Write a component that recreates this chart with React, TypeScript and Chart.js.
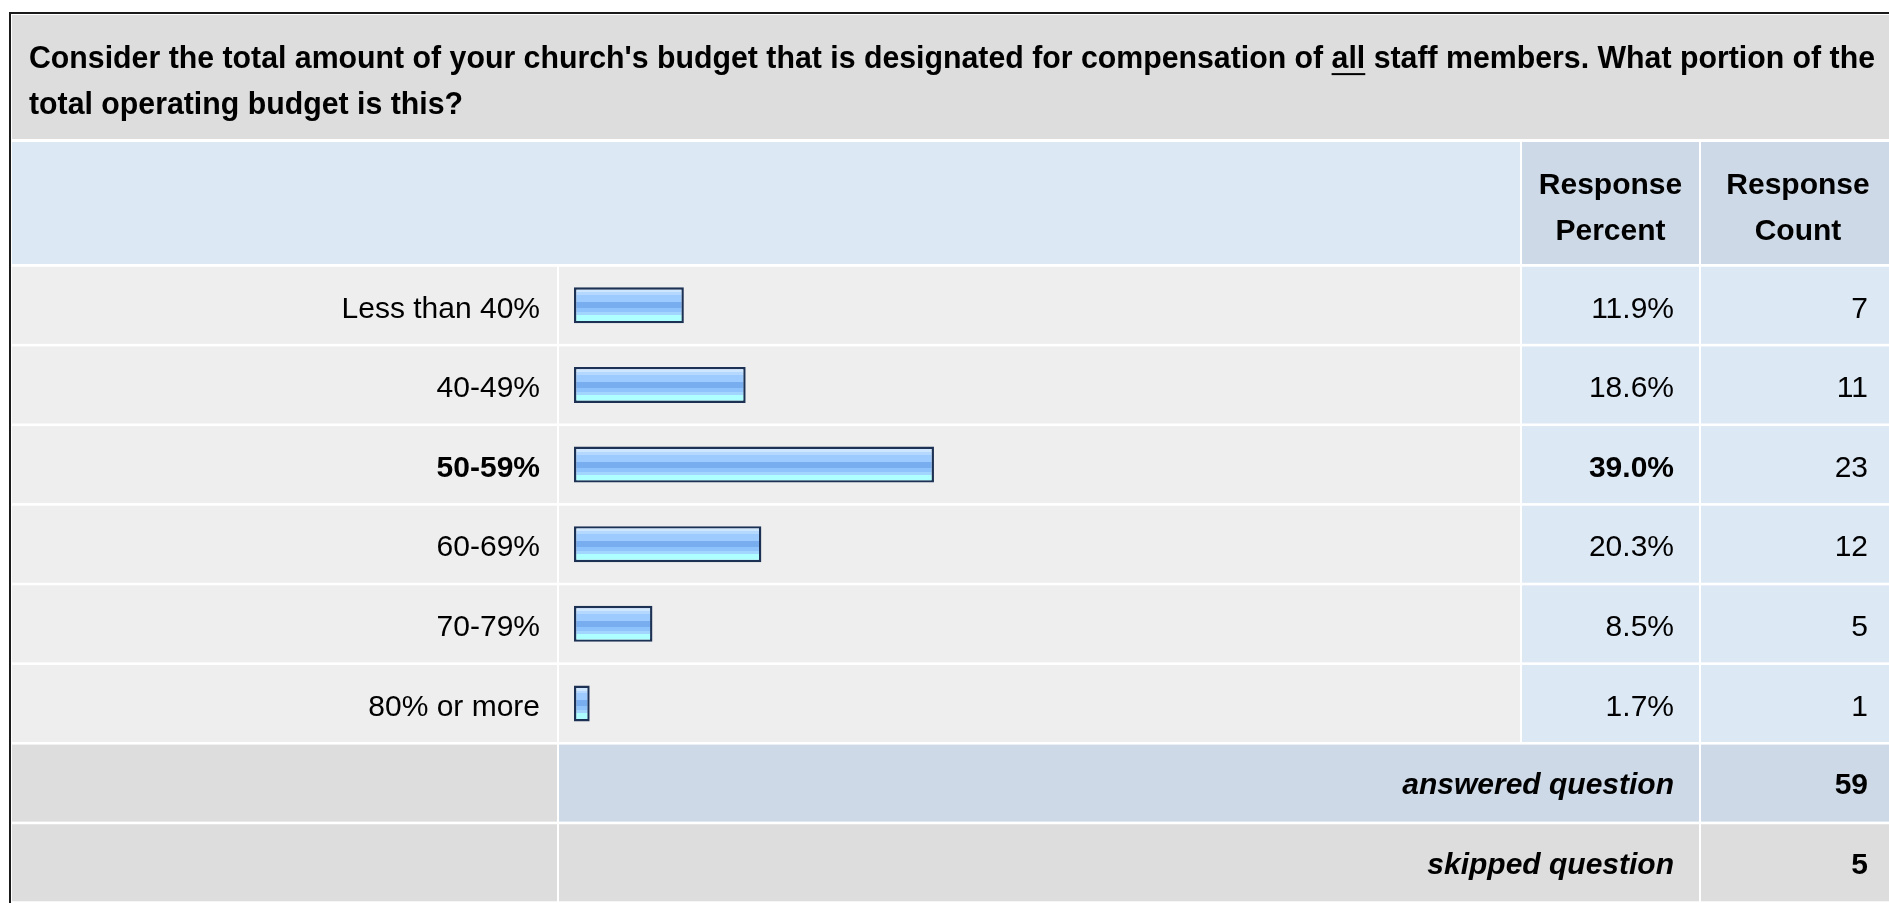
import React, { useEffect, useRef } from "react";
import { Chart, registerables } from "chart.js";

Chart.register(...registerables);

// ---------- data ----------
const questionPartA = "Consider the total amount of your church's budget that is designated for compensation of ";
const questionUnderlined = "all";
const questionPartB = " staff members. What portion of the";
const questionLine2 = "total operating budget is this?";
const headerPercent = ["Response", "Percent"];
const headerCount = ["Response", "Count"];
const categories = ["Less than 40%", "40-49%", "50-59%", "60-69%", "70-79%", "80% or more"];
const percents = [11.9, 18.6, 39.0, 20.3, 8.5, 1.7];
const counts = [7, 11, 23, 12, 5, 1];
const answeredLabel = "answered question";
const skippedLabel = "skipped question";
const answeredCount = 59;
const skippedCount = 5;

// ---------- style ----------
const W = 1889;
const H = 903;
const FONT = '"Liberation Sans", Arial, Helvetica, sans-serif';
const BAR_PCT = 0.452;
const GAP = 2.6;
const COL = { l0: 12, l1: 557, b0: 559, b1: 1520, p0: 1522, p1: 1699, c0: 1701, c1: 1895 };
const TEXT_RIGHT_P = 1674;
const TEXT_RIGHT_C = 1868;
const TEXT_RIGHT_L = 540;
const TITLE_SIZE = 30.5;
const TITLE_WIDTH = 1846;
const GRAD_STOPS: [number, string][] = [
  [0, "#cfe6ff"], [0.14, "#cfe6ff"],
  [0.14, "#b5d8ff"], [0.222, "#b5d8ff"],
  [0.222, "#9dcbff"], [0.417, "#9dcbff"],
  [0.417, "#78adf0"], [0.583, "#78adf0"],
  [0.583, "#8fc3fb"], [0.694, "#8fc3fb"],
  [0.694, "#a3d6ff"], [0.778, "#a3d6ff"],
  [0.778, "#aeffff"], [1, "#aeffff"],
];

const maxIndex = percents.indexOf(Math.max(...percents));

function cell(ctx: CanvasRenderingContext2D, x0: number, y0: number, x1: number, y1: number, color: string) {
  ctx.fillStyle = color;
  ctx.fillRect(x0, y0, x1 - x0, y1 - y0);
}

function text(ctx: CanvasRenderingContext2D, s: string, x: number, y: number, align: CanvasTextAlign, font: string) {
  ctx.font = font;
  ctx.textAlign = align;
  ctx.textBaseline = "middle";
  ctx.fillStyle = "#000";
  ctx.fillText(s, x, y);
}

function rowBands(chart: any) {
  const area = chart.chartArea;
  const band = (area.bottom - area.top) / categories.length;
  const ys = chart.scales.y;
  const rows = categories.map((_, i) => {
    const c = ys.getPixelForValue(i);
    return { top: c - band / 2 + GAP / 2, bottom: c + band / 2 - GAP / 2, center: c };
  });
  const aTop = area.bottom + GAP / 2;
  const answered = { top: aTop, bottom: aTop + band - GAP, center: aTop + (band - GAP) / 2 };
  const sTop = area.bottom + band + GAP / 2;
  const skipped = { top: sTop, bottom: sTop + band - GAP, center: sTop + (band - GAP) / 2 };
  return { rows, answered, skipped };
}

const tablePlugin = {
  id: "surveyTable",
  beforeDraw(chart: any) {
    const ctx: CanvasRenderingContext2D = chart.ctx;
    const { rows, answered, skipped } = rowBands(chart);
    ctx.save();
    cell(ctx, 0, 0, W, H, "#ffffff");
    // outer border
    cell(ctx, 9, 12, W, 14, "#1a1a1a");
    cell(ctx, 9, 12, 11, H, "#1a1a1a");
    // title
    cell(ctx, COL.l0, 15, COL.c1, 139, "#dddddd");
    // header
    cell(ctx, COL.l0, 142, COL.b1, 264, "#dde8f5");
    cell(ctx, COL.p0, 142, COL.p1, 264, "#cdd9e6");
    cell(ctx, COL.c0, 142, COL.c1, 264, "#cdd9e6");
    rows.forEach((r) => {
      cell(ctx, COL.l0, r.top, COL.l1, r.bottom, "#eeeeee");
      cell(ctx, COL.b0, r.top, COL.b1, r.bottom, "#eeeeee");
      cell(ctx, COL.p0, r.top, COL.p1, r.bottom, "#dde8f5");
      cell(ctx, COL.c0, r.top, COL.c1, r.bottom, "#dde8f5");
    });
    cell(ctx, COL.l0, answered.top, COL.l1, answered.bottom, "#dddddd");
    cell(ctx, COL.b0, answered.top, COL.p1, answered.bottom, "#cdd9e6");
    cell(ctx, COL.c0, answered.top, COL.c1, answered.bottom, "#cdd9e6");
    cell(ctx, COL.l0, skipped.top, COL.l1, skipped.bottom, "#dddddd");
    cell(ctx, COL.b0, skipped.top, COL.p1, skipped.bottom, "#dddddd");
    cell(ctx, COL.c0, skipped.top, COL.c1, skipped.bottom, "#dddddd");
    ctx.restore();
  },
  afterDraw(chart: any) {
    const ctx: CanvasRenderingContext2D = chart.ctx;
    const { rows, answered, skipped } = rowBands(chart);
    ctx.save();
    // title: bold, fitted to the original line width
    const tFont = `bold ${TITLE_SIZE}px ${FONT}`;
    const full = questionPartA + questionUnderlined + questionPartB;
    ctx.font = tFont;
    const wFull = ctx.measureText(full).width;
    const sx = Math.max(0.85, Math.min(1.1, TITLE_WIDTH / wFull));
    const x0 = 29;
    const l1 = 60;
    const l2 = 106;
    ctx.save();
    ctx.translate(x0, 0);
    ctx.scale(sx, 1);
    text(ctx, questionPartA, 0, l1, "left", tFont);
    const wa = ctx.measureText(questionPartA).width;
    text(ctx, questionUnderlined, wa, l1, "left", tFont);
    const wu = ctx.measureText(questionUnderlined).width;
    ctx.fillRect(wa, l1 + TITLE_SIZE * 0.43, wu, 2);
    text(ctx, questionPartB, wa + wu, l1, "left", tFont);
    text(ctx, questionLine2, 0, l2, "left", tFont);
    ctx.restore();

    // header
    const hFont = `bold 30px ${FONT}`;
    const pc = (COL.p0 + COL.p1) / 2;
    const cc = (COL.c0 + COL.c1) / 2;
    text(ctx, headerPercent[0], pc, 186, "center", hFont);
    text(ctx, headerPercent[1], pc, 232, "center", hFont);
    text(ctx, headerCount[0], cc, 186, "center", hFont);
    text(ctx, headerCount[1], cc, 232, "center", hFont);

    // rows
    rows.forEach((r, i) => {
      const bold = i === maxIndex;
      const f = `${bold ? "bold " : ""}30px ${FONT}`;
      const y = r.center + 4;
      text(ctx, categories[i], TEXT_RIGHT_L, y, "right", f);
      text(ctx, percents[i].toFixed(1) + "%", TEXT_RIGHT_P, y, "right", f);
      text(ctx, String(counts[i]), TEXT_RIGHT_C, y, "right", `30px ${FONT}`);
    });

    const fi = `italic bold 30px ${FONT}`;
    const fb = `bold 30px ${FONT}`;
    text(ctx, answeredLabel, TEXT_RIGHT_P, answered.center + 3, "right", fi);
    text(ctx, String(answeredCount), TEXT_RIGHT_C, answered.center + 3, "right", fb);
    text(ctx, skippedLabel, TEXT_RIGHT_P, skipped.center + 3, "right", fi);
    text(ctx, String(skippedCount), TEXT_RIGHT_C, skipped.center + 3, "right", fb);
    ctx.restore();
  },
};

export default function App() {
  const ref = useRef<HTMLCanvasElement | null>(null);
  useEffect(() => {
    document.body.style.margin = "0";
    const canvas = ref.current;
    if (!canvas) return;
    const chart = new Chart(canvas, {
      type: "bar",
      data: {
        labels: categories,
        datasets: [
          {
            data: percents,
            backgroundColor: (c: any) => {
              const ch = c.chart;
              const ys = ch.scales && ch.scales.y;
              if (!ys || !ch.chartArea || c.dataIndex === undefined) return "#9dcbff";
              const cy = ys.getPixelForValue(c.dataIndex);
              const band = (ch.chartArea.bottom - ch.chartArea.top) / categories.length;
              const h = band * BAR_PCT;
              const g = ch.ctx.createLinearGradient(0, cy - h / 2, 0, cy + h / 2);
              GRAD_STOPS.forEach(([p, col]) => g.addColorStop(p, col));
              return g;
            },
            borderColor: "#1c3153",
            borderWidth: 2.4,
            borderSkipped: false,
            barPercentage: BAR_PCT,
            categoryPercentage: 1,
          } as any,
        ],
      },
      options: {
        indexAxis: "y",
        responsive: false,
        animation: false,
        events: [],
        layout: { padding: { left: 574, right: 392, top: 265.5, bottom: 159.7 } },
        scales: {
          x: { display: false, min: 0, max: 100 },
          y: { display: false },
        },
        plugins: {
          legend: { display: false },
          tooltip: { enabled: false },
        },
      },
      plugins: [tablePlugin],
    });
    return () => chart.destroy();
  }, []);
  return (
    <canvas
      ref={ref}
      width={W}
      height={H}
      style={{ position: "absolute", left: 0, top: 0, display: "block", width: W, height: H }}
    />
  );
}
